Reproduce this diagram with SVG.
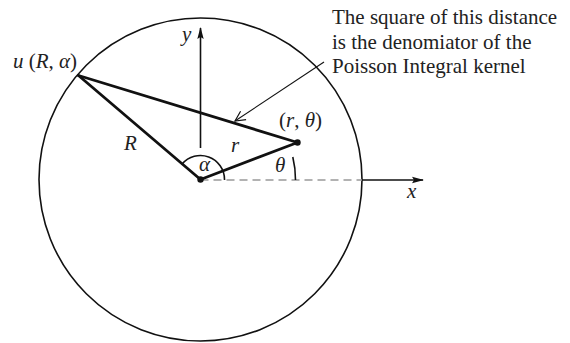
<svg xmlns="http://www.w3.org/2000/svg" width="570" height="343" viewBox="0 0 570 343">
<style>
text{font-family:"Liberation Serif","Times New Roman",serif;font-size:21px;fill:#222}
.it{font-style:italic}
.thick{stroke:#111;stroke-width:2.8;fill:none;stroke-linecap:round}
.thin{stroke:#111;stroke-width:1.6;fill:none}
</style>
<defs>
<marker id="ah" markerWidth="12" markerHeight="8" refX="11" refY="4" orient="auto" markerUnits="userSpaceOnUse">
<path d="M0,0.8 L12,4 L0,7.2 L2,4 Z" fill="#111"/>
</marker>
<marker id="open" markerWidth="12" markerHeight="12" refX="11" refY="6" orient="auto" markerUnits="userSpaceOnUse">
<path d="M1,1 L11,6 L1,11" fill="none" stroke="#111" stroke-width="1.2"/>
</marker>
</defs>
<g id="circle">
<circle cx="200.5" cy="179.5" r="161.5" class="thin"/>
</g>
<g id="axes">
<line x1="200.5" y1="148" x2="200.5" y2="28" class="thin" marker-end="url(#ah)"/>
<line x1="200.5" y1="180" x2="362" y2="180" stroke="#999" stroke-width="1.6" stroke-dasharray="8,5"/>
<line x1="362" y1="180" x2="423" y2="180" class="thin" marker-end="url(#ah)"/>
</g>
<g id="connectors">
<line x1="200.5" y1="179.5" x2="78.5" y2="75.5" class="thick"/>
<line x1="78.5" y1="75.5" x2="297.5" y2="142.5" class="thick"/>
<line x1="200.5" y1="179.5" x2="297.5" y2="142.5" class="thick"/>
<line x1="324" y1="62" x2="235" y2="121" stroke="#111" stroke-width="1.1" marker-end="url(#open)"/>
<path d="M224.5,180 L224.5,179.5 A24,24 0 0 0 182.1,164.1" class="thin" stroke-width="1.3"/>
<path d="M295.5,180 A95,95 0 0 0 292.8,157" class="thin" stroke-width="1.3"/>
</g>
<g id="points">
<circle cx="200.5" cy="179.5" r="3.2" fill="#111"/>
<circle cx="297.5" cy="142.5" r="3.2" fill="#111"/>
</g>
<g id="labels">
<text x="13" y="68"><tspan class="it">u</tspan> (<tspan class="it">R</tspan>, <tspan class="it">α</tspan>)</text>
<text x="182" y="41" class="it">y</text>
<text x="124" y="150" class="it">R</text>
<text x="231" y="152" class="it">r</text>
<text x="199" y="171" class="it">α</text>
<text x="275" y="172" class="it">θ</text>
<text x="279" y="127">(<tspan class="it">r</tspan>, <tspan class="it">θ</tspan>)</text>
<text x="407" y="198" class="it">x</text>
</g>
<g id="note">
<text x="332" y="24">The square of this distance</text>
<text x="332" y="49">is the denomiator of the</text>
<text x="332" y="73">Poisson Integral kernel</text>
</g>
</svg>
